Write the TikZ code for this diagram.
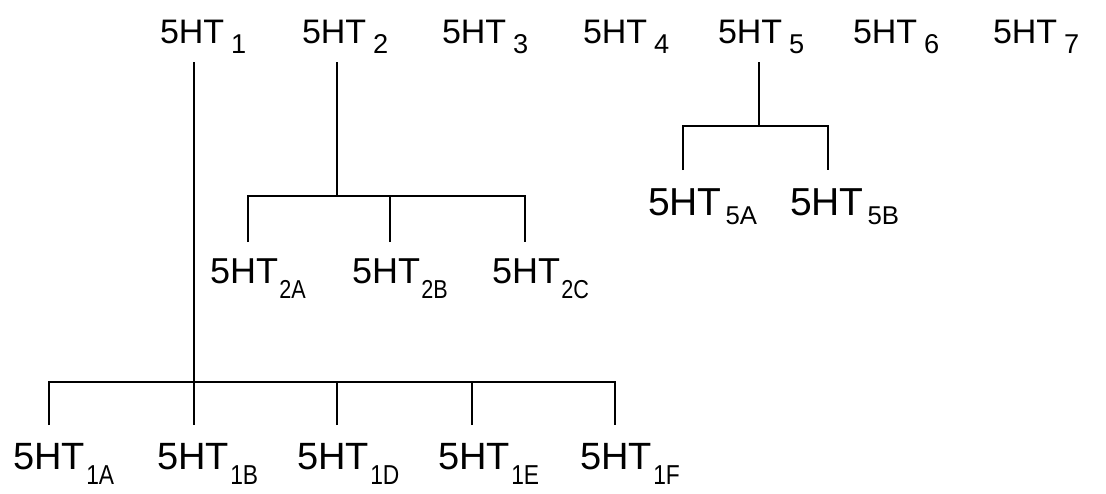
\documentclass[tikz,border=0pt]{standalone}
\usepackage{fontspec}
\setmainfont{Liberation Sans}
% top-row subscript
\newcommand\tsub[1]{\kern0.2em\raisebox{-0.3em}{\scalebox{0.8}{#1}}}
% lower-row subscripts (narrow)
\newcommand\bsub[1]{\kern0.04em\raisebox{-0.42em}{\scalebox{0.6}[0.72]{#1}}}
\newcommand\fsub[1]{\kern0.1em\raisebox{-0.24em}{\scalebox{0.66}{#1}}}
\tikzset{
  lab/.style={anchor=base west, inner sep=0pt, outer sep=0pt},
  toprow/.style={lab, font=\fontsize{34}{34}\selectfont},
  tworow/.style={lab, font=\fontsize{36}{36}\selectfont},
  fiverow/.style={lab, font=\fontsize{39}{39}\selectfont},
  onerow/.style={lab, font=\fontsize{38}{38}\selectfont},
  link/.style={line width=1.6pt, line cap=butt}
}
\begin{document}
\begin{tikzpicture}[x=1pt,y=-1pt]
\useasboundingbox (0,0) rectangle (1106,493);
% top row
\node[toprow] (t1) at (160,43) {5HT\tsub{1}};
\node[toprow] (t2) at (302,43) {5HT\tsub{2}};
\node[toprow] (t3) at (442,43) {5HT\tsub{3}};
\node[toprow] (t4) at (583,43) {5HT\tsub{4}};
\node[toprow] (t5) at (718,43) {5HT\tsub{5}};
\node[toprow] (t6) at (853,43) {5HT\tsub{6}};
\node[toprow] (t7) at (993,43) {5HT\tsub{7}};
% 5HT2 subtypes
\node[tworow] (t2a) at (210,283) {5HT\bsub{2A}};
\node[tworow] (t2b) at (352,283) {5HT\bsub{2B}};
\node[tworow] (t2c) at (492,283) {5HT\bsub{2C}};
% 5HT5 subtypes
\node[fiverow] (t5a) at (648,215) {5HT\fsub{5A}};
\node[fiverow] (t5b) at (790,215) {5HT\fsub{5B}};
% 5HT1 subtypes
\node[onerow] (t1a) at (13,469) {5HT\bsub{1A}};
\node[onerow] (t1b) at (157,469) {5HT\bsub{1B}};
\node[onerow] (t1d) at (297,469) {5HT\bsub{1D}};
\node[onerow] (t1e) at (438,469) {5HT\bsub{1E}};
\node[onerow] (t1f) at (580,469) {5HT\bsub{1F}};
% connector points
\coordinate (s1) at (194,62);
\coordinate (j1) at (194,382);
\coordinate (e1a) at (49,425);
\coordinate (e1b) at (194,425);
\coordinate (e1d) at (337,425);
\coordinate (e1e) at (472,425);
\coordinate (e1f) at (615,425);
\coordinate (s2) at (337,62);
\coordinate (j2) at (337,196);
\coordinate (e2a) at (248,242);
\coordinate (e2b) at (390,242);
\coordinate (e2c) at (525,242);
\coordinate (s5) at (759,62);
\coordinate (j5) at (759,126);
\coordinate (e5a) at (683,170);
\coordinate (e5b) at (828,170);
% 5HT1 tree
\draw[link] (s1) -- (e1b);
\draw[link] (e1a) |- (j1) -| (e1f);
\draw[link] (e1d) -- (e1d |- j1);
\draw[link] (e1e) -- (e1e |- j1);
% 5HT2 tree
\draw[link] (s2) -- (j2);
\draw[link] (e2a) |- (j2) -| (e2c);
\draw[link] (e2b) -- (e2b |- j2);
% 5HT5 tree
\draw[link] (s5) -- (j5);
\draw[link] (e5a) |- (j5) -| (e5b);
\end{tikzpicture}
\end{document}
